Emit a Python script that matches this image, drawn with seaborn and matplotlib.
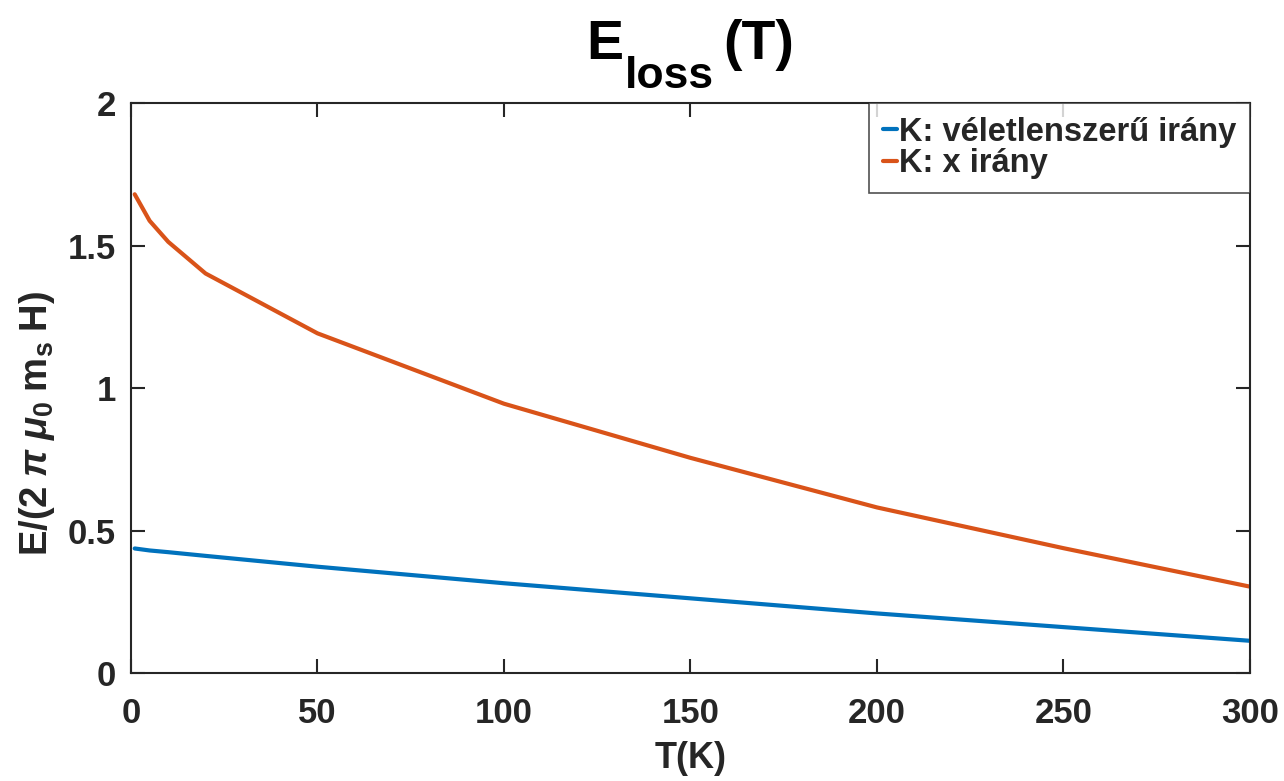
import matplotlib
matplotlib.use("Agg")
import matplotlib.pyplot as plt
import pandas as pd
import seaborn as sns

# Temperature grid (K) and normalized energy loss for two anisotropy orientations
T_vals = [1, 5, 10, 20, 50, 100, 150, 200, 250, 300]
e_random = [0.437, 0.430, 0.424, 0.411, 0.373, 0.315, 0.262, 0.209, 0.161, 0.113]
e_x = [1.68, 1.587, 1.513, 1.402, 1.192, 0.945, 0.755, 0.581, 0.438, 0.303]
series_names = ["K: véletlenszerű irány", "K: x irány"]
series_colors = ["#0072BD", "#D95319"]
x_ticks = [0, 50, 100, 150, 200, 250, 300]
y_ticks = [0, 0.5, 1, 1.5, 2]
y_tick_labels = ["0", "0.5", "1", "1.5", "2"]

df = pd.DataFrame({
    "T": T_vals * 2,
    "E": e_random + e_x,
    "series": [series_names[0]] * len(T_vals) + [series_names[1]] * len(T_vals),
})

sns.set_style("ticks")
plt.rcParams["font.family"] = ["Liberation Sans", "DejaVu Sans"]
plt.rcParams["font.weight"] = "bold"
plt.rcParams["mathtext.fontset"] = "custom"
plt.rcParams["mathtext.rm"] = "Liberation Sans:bold"
plt.rcParams["mathtext.bf"] = "Liberation Sans:bold"
plt.rcParams["mathtext.it"] = "Liberation Sans:italic:bold"

fig = plt.figure(figsize=(12.84, 7.81), dpi=100)
ax = fig.add_axes([0.102, 0.1383, 0.8715, 0.7297])

sns.lineplot(data=df, x="T", y="E", hue="series", palette=series_colors,
             linewidth=3.0, ax=ax, legend=True)

ax.set_xlim(0, 300)
ax.set_ylim(0, 2)
ax.set_xticks(x_ticks)
ax.set_xticklabels([str(v) for v in x_ticks])
ax.set_yticks(y_ticks)
ax.set_yticklabels(y_tick_labels)

axis_color = "#262626"
for side in ["top", "right", "bottom", "left"]:
    ax.spines[side].set_visible(True)
    ax.spines[side].set_color(axis_color)
    ax.spines[side].set_linewidth(1.5)
ax.tick_params(axis="both", which="major", direction="in", length=10, width=1.5,
               color=axis_color, labelsize=25, top=True, right=True)
ax.tick_params(axis="x", pad=17)
ax.tick_params(axis="y", pad=11)
for lab in ax.get_xticklabels() + ax.get_yticklabels():
    lab.set_fontweight("bold")
    lab.set_color(axis_color)

ax.set_xlabel("T(K)", fontsize=26, fontweight="bold", labelpad=8, color=axis_color)
ax.set_ylabel(r"E/(2$\;\pi\;\mu_\mathbf{0}\;$m$_\mathbf{s}\;$H)", fontsize=27.5,
              fontweight="bold", color=axis_color)
ax.yaxis.set_label_coords(-0.066, 0.437)

# Title E_loss(T): main letters with a deep, large subscript, laid out piecewise
title_parts = [("E", 40, 44), ("loss", 32, 15), ("(T)", 40, 44)]
gaps = [1, 10]
anns = []
for txt, size, dy in title_parts:
    anns.append(ax.annotate(txt, xy=(0.5, 1.0), xycoords="axes fraction",
                            xytext=(0, dy), textcoords="offset pixels",
                            ha="left", va="baseline", fontsize=size,
                            fontweight="bold", color="black"))
fig.canvas.draw()
renderer = fig.canvas.get_renderer()
widths = [a.get_window_extent(renderer).width for a in anns]
total = sum(widths) + sum(gaps)
x = -total / 2
for i, (a, (txt, size, dy)) in enumerate(zip(anns, title_parts)):
    a.xyann = (x, dy)
    x += widths[i] + (gaps[i] if i < len(gaps) else 0)

handles, labels = ax.get_legend_handles_labels()
leg = ax.legend(handles, labels, loc="upper right", borderaxespad=0,
                fontsize=23.5, frameon=True, fancybox=False, handlelength=0.45,
                handletextpad=0.05, labelspacing=0.02, borderpad=0.42)
leg.get_frame().set_edgecolor(axis_color)
leg.get_frame().set_linewidth(1.2)
for t in leg.get_texts():
    t.set_fontweight("bold")

fig.savefig("out.png", dpi=100)
